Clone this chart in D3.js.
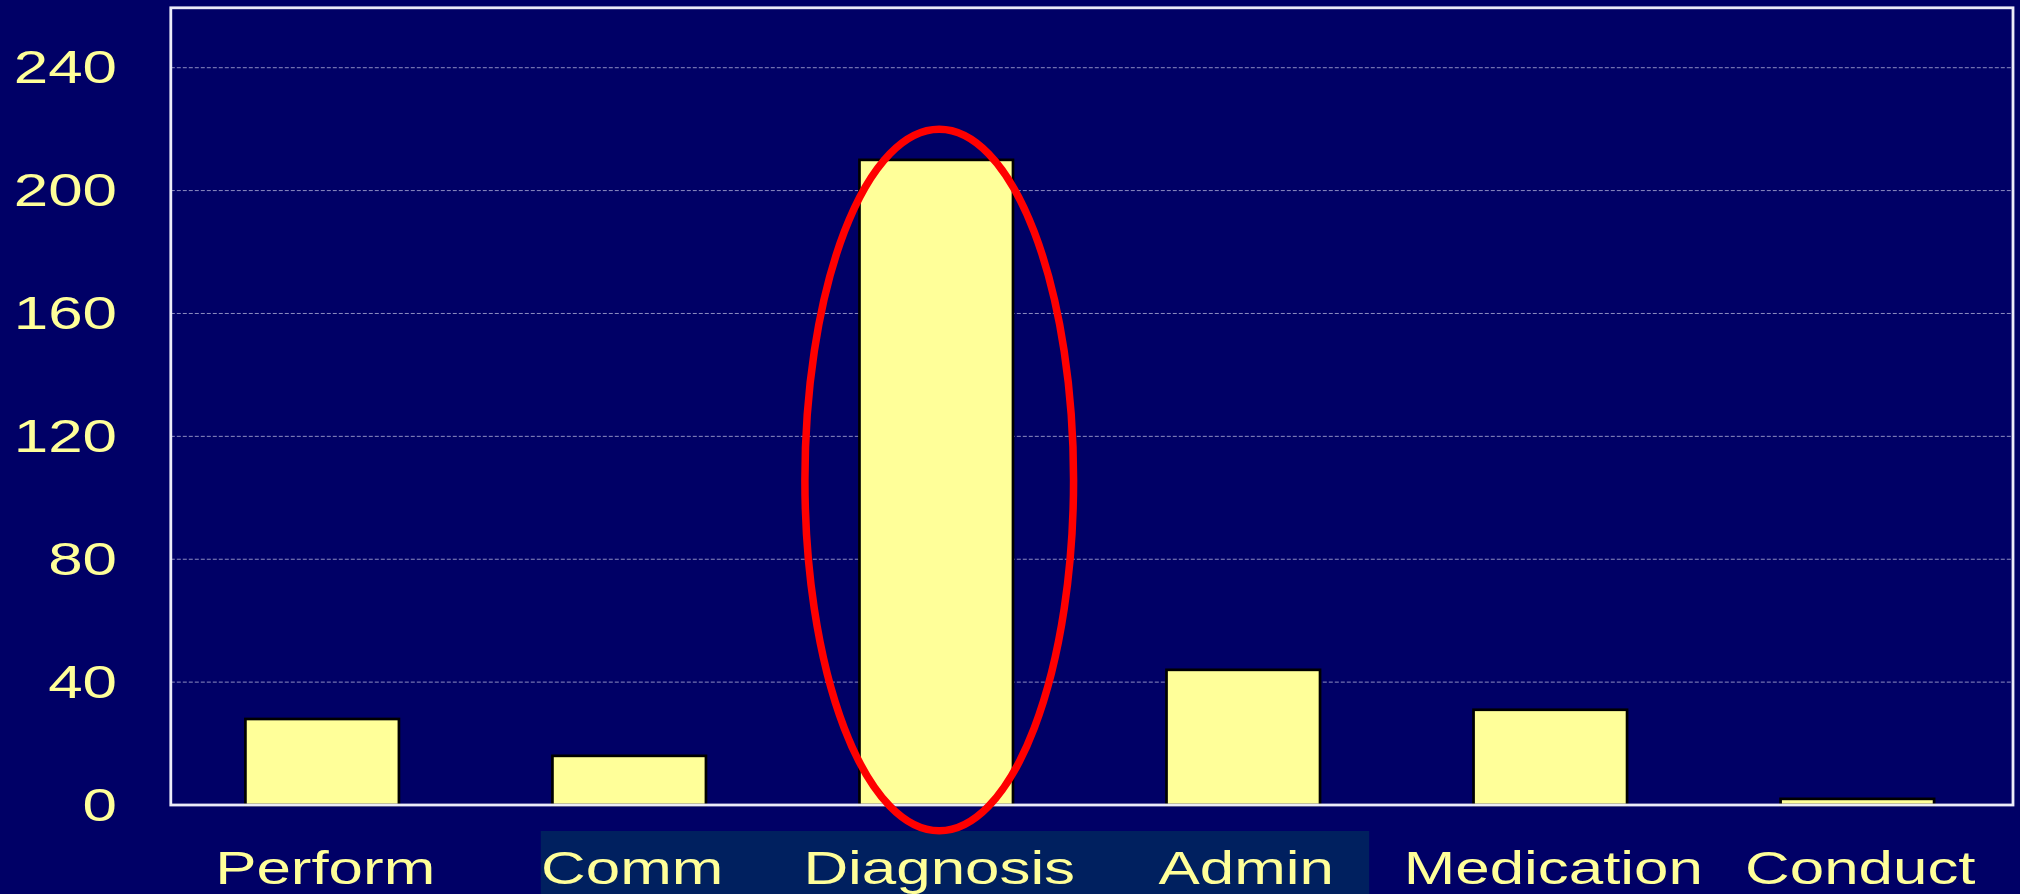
<!DOCTYPE html>
<html>
<head>
<meta charset="utf-8">
<script src="https://cdn.jsdelivr.net/npm/d3@7"></script>
<style>
  html, body { margin: 0; padding: 0; background: #000066; overflow: hidden; }
  svg { display: block; }
  text { font-family: "Liberation Sans", Arial, sans-serif; fill: #FFFF99; }
</style>
</head>
<body>
<svg id="chart" width="2020" height="894"></svg>
<script>
// ---- data ----
const categories = ["Perform", "Comm", "Diagnosis", "Admin", "Medication", "Conduct"];
const values = [28, 16, 210, 44, 31, 2];
const yTicks = [0, 40, 80, 120, 160, 200, 240];
const yMax = 259.5;
// highlighted categories (box behind labels) and circled category
const boxFrom = "Comm", boxTo = "Admin";
const circled = "Diagnosis";
const circleLow = -8.4, circleHigh = 220;

// ---- layout ----
const W = 2020, H = 894;
const plot = { left: 170.8, right: 2013, top: 7.8, bottom: 805 };
const stretch = 1.36;     // labels are horizontally stretched in the reference
const fontSize = 45.5;
const labelShift = 3;

const svg = d3.select("#chart");
svg.append("rect").attr("width", W).attr("height", H).attr("fill", "#000066");

const x = d3.scaleBand().domain(categories)
  .range([plot.left, plot.right]).paddingInner(0.5).paddingOuter(0.25).align(0.486);
const y = d3.scaleLinear().domain([0, yMax]).range([plot.bottom, plot.top]);
const step = x.step(), bw = x.bandwidth();
const cx = d => x(d) + bw / 2;

// highlight box behind category labels
const boxL = cx(boxFrom) - 0.288 * step;
const boxR = cx(boxTo) + 0.41 * step;
svg.append("rect")
  .attr("x", boxL).attr("y", plot.bottom + 26)
  .attr("width", boxR - boxL).attr("height", H - plot.bottom - 26)
  .attr("fill", "#00205F");

// gridlines
svg.append("g").selectAll("line")
  .data(yTicks.filter(t => t > 0))
  .join("line")
  .attr("x1", plot.left).attr("x2", plot.right)
  .attr("y1", d => y(d)).attr("y2", d => y(d))
  .attr("stroke", "#8c8cc0").attr("stroke-width", 1)
  .attr("stroke-dasharray", "4,2");

// bars
svg.append("g").selectAll("rect")
  .data(categories.map((c, i) => ({ c, v: values[i] })))
  .join("rect")
  .attr("x", d => x(d.c))
  .attr("y", d => y(d.v))
  .attr("width", bw)
  .attr("height", d => y(0) - y(d.v))
  .attr("fill", "#FFFF99")
  .attr("stroke", "#000000")
  .attr("stroke-width", 2.7);

// frame
svg.append("rect")
  .attr("x", plot.left).attr("y", plot.top)
  .attr("width", plot.right - plot.left).attr("height", plot.bottom - plot.top)
  .attr("fill", "none").attr("stroke", "#ECECF8").attr("stroke-width", 2.8);

// y tick labels
svg.append("g").selectAll("text")
  .data(yTicks)
  .join("text")
  .attr("transform", d => `translate(117,${y(d) + 15.5}) scale(${stretch},1)`)
  .attr("text-anchor", "end")
  .attr("font-size", fontSize)
  .text(d => d);

// category labels
svg.append("g").selectAll("text")
  .data(categories)
  .join("text")
  .attr("transform", d => `translate(${cx(d) + labelShift},884) scale(${stretch},1)`)
  .attr("text-anchor", "middle")
  .attr("font-size", fontSize)
  .text(d => d);

// red ellipse around the circled bar
svg.append("ellipse")
  .attr("cx", cx(circled) + labelShift)
  .attr("cy", (y(circleLow) + y(circleHigh)) / 2)
  .attr("rx", bw * 0.875)
  .attr("ry", (y(circleLow) - y(circleHigh)) / 2)
  .attr("fill", "none")
  .attr("stroke", "#FF0000")
  .attr("stroke-width", 7.5);
</script>
</body>
</html>
